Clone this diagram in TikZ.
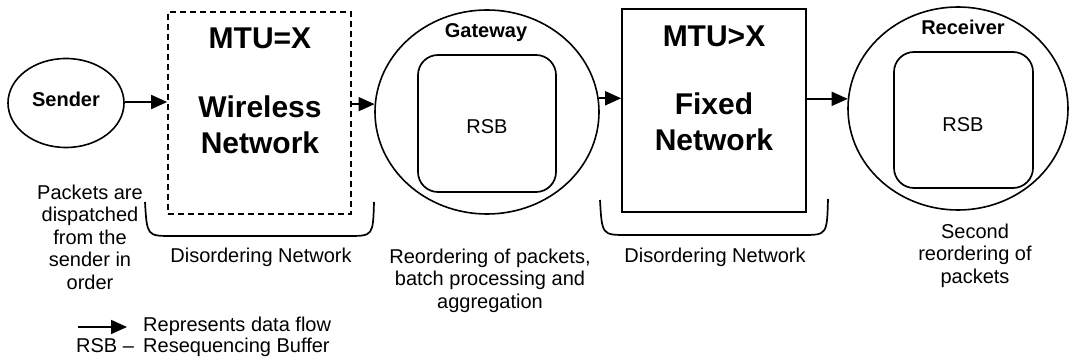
\documentclass[tikz,border=0pt]{standalone}
\usepackage{fontspec}
\setmainfont{Liberation Sans}
\usetikzlibrary{arrows.meta,shapes.geometric}
\begin{document}
\begin{tikzpicture}[x=1pt,y=-1pt,
  flow/.style={line width=1.7pt,-{Triangle[length=16pt,width=14pt]}},
  oval/.style={ellipse,draw,line width=1.6pt,inner sep=0pt},
  netbox/.style={draw,line width=1.7pt,inner sep=0pt},
  rsbbox/.style={draw,rounded corners=20pt,line width=1.7pt,inner sep=0pt},
  brace/.style={line width=1.7pt},
  lbl/.style={font=\fontsize{20}{22.5}\selectfont,inner sep=0pt},
  blbl/.style={font=\bfseries\fontsize{20}{22.5}\selectfont,inner sep=0pt},
  big/.style={font=\bfseries\fontsize{30}{36}\selectfont,inner sep=0pt},
  note/.style={lbl,align=center,anchor=north}]
\useasboundingbox (0,0) rectangle (1069,363);

% main chain of nodes
\node[oval,minimum width=116pt,minimum height=89pt] (sender) at (66,103) {};
\node[netbox,dash pattern=on 6pt off 4pt,minimum width=183pt,minimum height=202pt] (wireless) at (259.5,113) {};
\node[oval,minimum width=224pt,minimum height=204pt] (gw) at (487,112) {};
\node[rsbbox,minimum width=138pt,minimum height=137pt] (gwrsb) at (487,123.5) {};
\node[netbox,minimum width=184pt,minimum height=203pt] (fixed) at (714,110.5) {};
\node[oval,minimum width=220pt,minimum height=203pt] (rx) at (958,108.5) {};
\node[rsbbox,minimum width=139pt,minimum height=136pt] (rxrsb) at (963.5,120) {};

% labels inside the shapes
\node[blbl,anchor=base] (sendertxt) at (66,107) {Sender};
\node[big,anchor=base] (mtu1) at (260,49) {MTU=X};
\node[big,anchor=base] (wl1) at (260,118) {Wireless};
\node[big,anchor=base] (wl2) at (260,154) {Network};
\node[blbl,anchor=base] (gwtxt) at (486,38) {Gateway};
\node[lbl,anchor=base] (gwrsbtxt) at (487,134) {RSB};
\node[big,anchor=base] (mtu2) at (714,47) {MTU>X};
\node[big,anchor=base] (fx1) at (714,115) {Fixed};
\node[big,anchor=base] (fx2) at (714,151) {Network};
\node[blbl,anchor=base] (rxtxt) at (963,35) {Receiver};
\node[lbl,anchor=base] (rxrsbtxt) at (963,132) {RSB};

% data flow
\draw[flow] (sender.east |- 0,102) -- (wireless.west |- 0,102);
\draw[flow] (wireless.east |- gw.176) -- (gw.176);
\draw[flow] (gw.7) -- (fixed.west |- gw.7);
\draw[flow] (fixed.east |- rx.175) -- (rx.175);

% disordering brackets
\coordinate (b1a) at (145,202);
\coordinate (b1b) at (374,202);
\coordinate (b2a) at (600,200);
\coordinate (b2b) at (828,199);
\draw[brace] (b1a) .. controls (147,236) .. (172,236) -- (348,236) .. controls (373,236) .. (b1b);
\draw[brace] (b2a) .. controls (602,235) .. (627,235) -- (802,235) .. controls (827,235) .. (b2b);

% captions
\node[note] (packets) at (90,184.5) {Packets are\\dispatched\\from the\\sender in\\order};
\node[lbl,anchor=base] (dis1) at (261,263) {Disordering Network};
\node[note] (reord) at (490,248.5) {Reordering of packets,\\batch processing and\\aggregation};
\node[lbl,anchor=base] (dis2) at (715,263) {Disordering Network};
\node[note] (second) at (975,223.5) {Second\\reordering of\\packets};

% legend
\coordinate (lg1) at (78,327);
\coordinate (lg2) at (127,327);
\draw[flow] (lg1) -- (lg2);
\node[lbl,anchor=base west] (lgflow) at (143,332) {Represents data flow};
\node[lbl,anchor=base west] (lgrsb) at (76,353) {RSB \textendash};
\node[lbl,anchor=base west] (lgbuf) at (143,353) {Resequencing Buffer};
\end{tikzpicture}
\end{document}
